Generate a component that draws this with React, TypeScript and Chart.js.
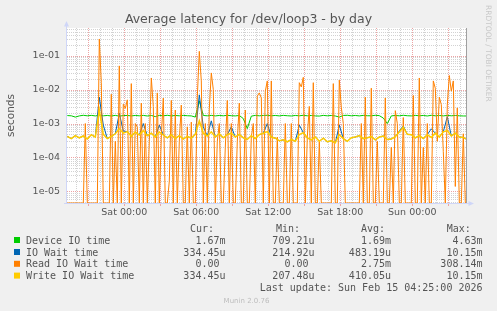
import React, { useEffect, useRef } from 'react';
import { Chart, registerables } from 'chart.js';

Chart.register(...registerables);

const W = 497;
const H = 311;

// ---- time axis (hours relative to Sat 00:00) ----
const X_MIN = -4.775;
const X_MAX = 28.558;
const START_H = -4.75;
const SLOW_STEP_H = 1 / 3; // 20 min samples
const FAST_STEP_H = 1 / 6; // 10 min samples

const xTickHours = [0, 6, 12, 18, 24];
const xTickLabels = ['Sat 00:00', 'Sat 06:00', 'Sat 12:00', 'Sat 18:00', 'Sun 00:00'];

// ---- value axis (seconds, logarithmic) ----
const Y_MIN = 4.56e-6;
const Y_MAX = 0.653;
const yTickValues = [1e-5, 1e-4, 1e-3, 1e-2, 1e-1];
const yTickLabels = ['1e-05', '1e-04', '1e-03', '1e-02', '1e-01'];

// ---- series (milliseconds, 20 min samples) ----
const deviceIoMs = [
  1.72, 1.69, 1.55, 1.68, 1.75, 1.69, 1.74, 1.68, 1.75, 1.69,
  1.73, 1.67, 1.74, 1.65, 1.72, 1.73, 1.68, 1.73, 1.69, 1.74,
  1.67, 1.73, 1.60, 1.74, 1.69, 1.75, 1.68, 1.73, 1.69, 1.74,
  1.70, 1.68, 1.55, 4.63, 1.73, 1.69, 1.74, 1.68, 1.73, 1.69,
  1.75, 1.70, 1.68, 1.73, 1.40, 0.71, 1.65, 1.74, 1.69, 1.73,
  1.75, 1.69, 1.73, 1.68, 1.74, 1.70, 1.67, 1.73, 1.69, 1.75,
  1.69, 1.73, 1.68, 1.66, 1.74, 1.69, 1.73, 1.67, 1.55, 1.73,
  1.75, 1.69, 1.73, 1.68, 1.74, 1.70, 1.69, 1.75, 1.71, 1.45,
  1.00, 1.68, 1.73, 1.69, 1.75, 1.70, 1.68, 1.74, 1.69, 1.73,
  1.67, 1.75, 1.69, 1.73, 1.68, 1.74, 1.69, 1.73, 1.69, 1.67,
  1.67,
];

const ioWaitMs = [
  0.42, 0.36, 0.44, 0.38, 0.43, 0.35, 0.47, 0.40, 6.0, 0.9,
  0.36, 0.42, 0.50, 2.0, 0.6, 0.58, 0.42, 0.56, 0.46, 1.0,
  0.44, 0.52, 0.40, 0.9, 0.46, 0.38, 0.47, 0.36, 0.44, 0.35,
  0.42, 0.37, 0.48, 7.0, 0.8, 0.43, 1.2, 0.40, 0.50, 0.38,
  0.47, 0.8, 0.40, 0.48, 0.38, 0.34, 0.44, 0.36, 0.47, 0.52,
  1.0, 0.40, 0.37, 0.31, 0.33, 0.29, 0.34, 0.30, 0.9, 0.54,
  0.38, 0.33, 0.40, 0.30, 0.37, 0.29, 0.31, 0.27, 0.9, 0.36,
  0.30, 0.38, 0.40, 0.44, 0.36, 0.38, 0.41, 0.33, 0.40, 0.43,
  0.34, 0.35, 0.41, 0.6, 0.85, 0.48, 0.47, 0.38, 0.44, 0.36,
  0.47, 0.7, 0.52, 0.40, 0.57, 1.6, 0.43, 0.52, 0.40, 0.39,
  0.334,
];

const writeWaitMs = [
  0.42, 0.36, 0.44, 0.38, 0.43, 0.35, 0.47, 0.40, 2.5, 0.48,
  0.36, 0.42, 0.50, 0.70, 0.52, 0.58, 0.42, 0.56, 0.46, 0.62,
  0.44, 0.52, 0.40, 0.56, 0.46, 0.38, 0.47, 0.36, 0.44, 0.35,
  0.42, 0.37, 0.48, 1.2, 0.52, 0.43, 0.57, 0.40, 0.50, 0.38,
  0.47, 0.52, 0.40, 0.48, 0.38, 0.34, 0.44, 0.36, 0.47, 0.52,
  0.58, 0.40, 0.37, 0.31, 0.33, 0.29, 0.34, 0.30, 0.47, 0.54,
  0.38, 0.33, 0.40, 0.30, 0.37, 0.29, 0.31, 0.27, 0.47, 0.36,
  0.30, 0.38, 0.40, 0.44, 0.36, 0.38, 0.41, 0.33, 0.40, 0.43,
  0.34, 0.35, 0.41, 0.56, 0.78, 0.48, 0.47, 0.38, 0.44, 0.36,
  0.47, 0.39, 0.52, 0.40, 0.57, 0.62, 0.43, 0.52, 0.40, 0.39,
  0.334,
];

// ---- read wait (seconds, 10 min samples) ----
const readWaitS = [
  0, 0, 0, 0, 0, 0, 0, 0, 0, 1e-3,
  0, 0, 0, 0, 0, 0, 0.31, 0.016, 0, 0,
  0, 0, 7.3e-3, 0, 3e-4, 0, 0.05, 0, 3.7e-3, 2.8e-3,
  5e-3, 0, 0.015, 0, 1e-3, 8e-4, 0, 4e-3, 0, 1e-3,
  0, 3e-4, 0.022, 3.2e-3, 0, 8e-3, 0, 4e-4, 5.6e-3, 0,
  0, 2e-5, 4.8e-3, 0, 2.5e-3, 0, 3e-4, 3.5e-3, 0, 0,
  8e-4, 0, 1.1e-3, 0, 0, 6e-3, 0.134, 0.018, 0, 1e-3,
  0, 2.7e-3, 0.031, 0.01, 0, 3e-4, 1e-3, 0, 0, 2e-4,
  4.8e-3, 0, 1e-3, 0, 0, 3e-4, 4e-3, 0, 0, 2.5e-3,
  0, 0, 4e-4, 1e-3, 0, 6.4e-3, 8e-3, 5.7e-3, 0, 9e-3,
  0.018, 0, 0.018, 0, 0, 4e-4, 0, 0, 0, 1e-3,
  0, 0, 1e-3, 0, 0, 0, 0.016, 0.012, 0.023, 0,
  4e-4, 3.2e-3, 0, 0.016, 0, 0, 3e-4, 0, 0, 0,
  0, 0, 0, 0.015, 0, 0, 0.019, 3e-3, 1e-3, 0,
  0, 0, 0, 0, 0, 0, 0, 1e-3, 0, 6e-3,
  0, 0, 0.011, 0, 0, 3e-4, 0, 0, 0, 5.7e-3,
  0, 0, 2e-4, 0, 2.4e-3, 1e-3, 0, 0, 1.5e-3, 0,
  0, 0, 0, 6.7e-3, 0, 0, 0.022, 0, 2e-4, 0,
  1e-3, 0, 0, 0.018, 0.011, 3e-4, 6e-3, 3.6e-3, 1.5e-4, 0,
  3.5e-3, 0.026, 9e-3, 0.018, 1.4e-5, 2.9e-3, 0, 0, 5e-4, 0,
  0,
];

// ---- legend ----
const legendLabels = ['Device IO time', 'IO Wait time', 'Read IO Wait time', 'Write IO Wait time'];
const legendColors = ['#00cc00', '#0066b3', '#ff8000', '#ffcc00'];
const curValues = ['1.67m', '334.45u', '0.00', '334.45u'];
const minValues = ['709.21u', '214.92u', '0.00', '207.48u'];
const avgValues = ['1.69m', '483.19u', '2.75m', '410.05u'];
const maxValues = ['4.63m', '10.15m', '308.14m', '10.15m'];
const lastUpdate = 'Last update: Sun Feb 15 04:25:00 2026';

const TITLE = 'Average latency for /dev/loop3 - by day';
const Y_TITLE = 'seconds';
const SIDE_TEXT = 'RRDTOOL / TOBI OETIKER';
const FOOTER = 'Munin 2.0.76';

const FONT = '"DejaVu Sans", sans-serif';
const MONO = '"DejaVu Sans Mono", monospace';
const TEXT = '#555555';

const slow = (arr: number[]) =>
  arr.map((v, i) => ({ x: START_H + i * SLOW_STEP_H, y: v / 1000 }));
const fast = (arr: number[]) =>
  arr.map((v, i) => ({ x: START_H + i * FAST_STEP_H, y: v > 0 ? v : Y_MIN }));

const muninPlugin = {
  id: 'muninDecor',
  beforeDraw(chart: any) {
    const { ctx, chartArea: a } = chart;
    ctx.save();
    ctx.fillStyle = '#f0f0f0';
    ctx.fillRect(0, 0, W, H);
    ctx.fillStyle = '#ffffff';
    ctx.fillRect(a.left, a.top, a.right - a.left, a.bottom - a.top);
    ctx.restore();
  },
  beforeDatasetsDraw(chart: any) {
    const { ctx, chartArea: a } = chart;
    const xs = chart.scales.x;
    const ys = chart.scales.y;
    ctx.save();
    ctx.lineWidth = 1;
    ctx.setLineDash([1, 1]);
    ctx.strokeStyle = '#d2d2d2';
    for (let e = -6; e <= 0; e++) {
      for (let m = 2; m <= 9; m++) {
        const v = m * Math.pow(10, e);
        if (v < Y_MIN || v > Y_MAX) continue;
        const py = Math.round(ys.getPixelForValue(v)) + 0.5;
        ctx.beginPath();
        ctx.moveTo(a.left, py);
        ctx.lineTo(a.right, py);
        ctx.stroke();
      }
    }
    for (let h = Math.ceil(X_MIN); h <= Math.floor(X_MAX); h++) {
      const px = Math.round(xs.getPixelForValue(h)) + 0.5;
      ctx.strokeStyle = h % 3 === 0 ? '#eda4a4' : '#d2d2d2';
      ctx.beginPath();
      ctx.moveTo(px, a.top);
      ctx.lineTo(px, a.bottom);
      ctx.stroke();
    }
    ctx.strokeStyle = '#eda4a4';
    for (const v of yTickValues) {
      const py = Math.round(ys.getPixelForValue(v)) + 0.5;
      ctx.beginPath();
      ctx.moveTo(a.left, py);
      ctx.lineTo(a.right, py);
      ctx.stroke();
    }
    ctx.restore();
  },
  afterDatasetsDraw(chart: any) {
    const { ctx, chartArea: a } = chart;
    const xs = chart.scales.x;
    ctx.save();
    ctx.lineWidth = 1;
    ctx.strokeStyle = '#a0a0a0';
    ctx.beginPath();
    ctx.moveTo(Math.round(a.right) - 0.5, a.top);
    ctx.lineTo(Math.round(a.right) - 0.5, a.bottom);
    ctx.stroke();
    ctx.strokeStyle = '#eda4a4';
    for (let h = Math.ceil(X_MIN); h <= Math.floor(X_MAX); h++) {
      if (h % 3 !== 0) continue;
      const px = Math.round(xs.getPixelForValue(h)) + 0.5;
      ctx.beginPath();
      ctx.moveTo(px, a.bottom + 1);
      ctx.lineTo(px, a.bottom + 3);
      ctx.stroke();
    }
    const axis = '#cfd6f8';
    ctx.strokeStyle = axis;
    ctx.fillStyle = axis;
    const lx = Math.round(a.left) - 0.5;
    const by = Math.round(a.bottom) + 0.5;
    ctx.beginPath();
    ctx.moveTo(lx, a.top - 2);
    ctx.lineTo(lx, by);
    ctx.stroke();
    ctx.beginPath();
    ctx.moveTo(a.left - 3, by);
    ctx.lineTo(a.right + 2, by);
    ctx.stroke();
    ctx.beginPath();
    ctx.moveTo(lx - 2.5, a.top - 1.5);
    ctx.lineTo(lx + 2.5, a.top - 1.5);
    ctx.lineTo(lx, a.top - 7);
    ctx.closePath();
    ctx.fill();
    ctx.beginPath();
    ctx.moveTo(a.right + 1.5, by - 2.5);
    ctx.lineTo(a.right + 1.5, by + 2.5);
    ctx.lineTo(a.right + 7, by);
    ctx.closePath();
    ctx.fill();
    ctx.restore();
  },
  afterDraw(chart: any) {
    const { ctx, chartArea: a } = chart;
    ctx.save();
    ctx.fillStyle = TEXT;
    ctx.font = `12.5px ${FONT}`;
    ctx.textAlign = 'center';
    ctx.textBaseline = 'alphabetic';
    ctx.fillText(TITLE, W / 2, 22.5);
    ctx.save();
    ctx.translate(11.5, (a.top + a.bottom) / 2);
    ctx.rotate(-Math.PI / 2);
    ctx.font = `10.5px ${FONT}`;
    ctx.textAlign = 'center';
    ctx.textBaseline = 'middle';
    ctx.fillText(Y_TITLE, 0, 0);
    ctx.restore();
    ctx.save();
    ctx.translate(488, 5);
    ctx.rotate(Math.PI / 2);
    ctx.font = `7.5px ${FONT}`;
    ctx.fillStyle = '#c8c8c8';
    ctx.textAlign = 'left';
    ctx.textBaseline = 'middle';
    ctx.fillText(SIDE_TEXT, 0, 0);
    ctx.restore();
    ctx.font = `7px ${FONT}`;
    ctx.fillStyle = '#bdbdbd';
    ctx.textAlign = 'center';
    ctx.textBaseline = 'alphabetic';
    ctx.fillText(FOOTER, 246.5, 302.5);
    ctx.fillStyle = TEXT;
    ctx.font = `10px ${MONO}`;
    ctx.textAlign = 'left';
    const headY = 231.5;
    ctx.fillText('Cur:', 190, headY);
    ctx.fillText('Min:', 276, headY);
    ctx.fillText('Avg:', 361, headY);
    ctx.fillText('Max:', 446.7, headY);
    const pad = (s: string) => (/[0-9]$/.test(s) ? s + ' ' : s);
    const rowY = [243.5, 255.5, 267.3, 279.1];
    legendLabels.forEach((lab, i) => {
      const y = rowY[i];
      ctx.fillStyle = legendColors[i];
      ctx.fillRect(14, y - 6.5, 6, 6);
      ctx.fillStyle = TEXT;
      ctx.textAlign = 'left';
      ctx.fillText(lab, 26, y);
      ctx.textAlign = 'right';
      ctx.fillText(pad(curValues[i]), 225.5, y);
      ctx.fillText(pad(minValues[i]), 314.5, y);
      ctx.fillText(pad(avgValues[i]), 391, y);
      ctx.fillText(pad(maxValues[i]), 482.5, y);
    });
    ctx.textAlign = 'right';
    ctx.fillText(lastUpdate, 482.5, 291.3);
    ctx.restore();
  },
};

export default function App() {
  const ref = useRef<HTMLCanvasElement>(null);
  useEffect(() => {
    document.body.style.margin = '0';
    document.body.style.background = '#f0f0f0';
    const canvas = ref.current;
    if (!canvas) return;
    const chart = new Chart(canvas, {
      type: 'line',
      data: {
        datasets: [
          { label: legendLabels[3], data: slow(writeWaitMs), borderColor: legendColors[3], borderWidth: 1.5, order: 1 },
          { label: legendLabels[2], data: fast(readWaitS), borderColor: legendColors[2], borderWidth: 1, order: 2 },
          { label: legendLabels[1], data: slow(ioWaitMs), borderColor: legendColors[1], borderWidth: 1, order: 3 },
          { label: legendLabels[0], data: slow(deviceIoMs), borderColor: legendColors[0], borderWidth: 1, order: 4 },
        ].map((d) => ({ ...d, pointRadius: 0, fill: false, tension: 0 })),
      },
      options: {
        animation: false,
        responsive: false,
        devicePixelRatio: 1,
        events: [],
        layout: { padding: { top: 28, right: 30, bottom: 88, left: 0 } },
        plugins: { legend: { display: false }, tooltip: { enabled: false }, title: { display: false } },
        scales: {
          x: {
            type: 'linear',
            min: X_MIN,
            max: X_MAX,
            bounds: 'data',
            grid: { display: false, drawTicks: false },
            border: { display: false },
            afterBuildTicks: (s: any) => {
              s.ticks = xTickHours.map((h) => ({ value: h }));
            },
            afterFit: (s: any) => {
              s.height = 20;
            },
            ticks: {
              autoSkip: false,
              maxRotation: 0,
              padding: 3.5,
              color: TEXT,
              font: { family: FONT, size: 9.5 },
              callback: (_v: any, i: number) => xTickLabels[i],
            },
          },
          y: {
            type: 'logarithmic',
            min: Y_MIN,
            max: Y_MAX,
            bounds: 'data',
            grid: { display: false, drawTicks: false },
            border: { display: false },
            afterBuildTicks: (s: any) => {
              s.ticks = yTickValues.map((v) => ({ value: v }));
            },
            afterFit: (s: any) => {
              s.width = 67;
            },
            ticks: {
              autoSkip: false,
              padding: 7,
              color: TEXT,
              font: { family: FONT, size: 9.5 },
              callback: (_v: any, i: number) => yTickLabels[i],
            },
          },
        },
      } as any,
      plugins: [muninPlugin],
    });
    return () => chart.destroy();
  }, []);
  return (
    <div style={{ width: W, height: H }}>
      <canvas ref={ref} width={W} height={H} style={{ display: 'block' }} />
    </div>
  );
}
